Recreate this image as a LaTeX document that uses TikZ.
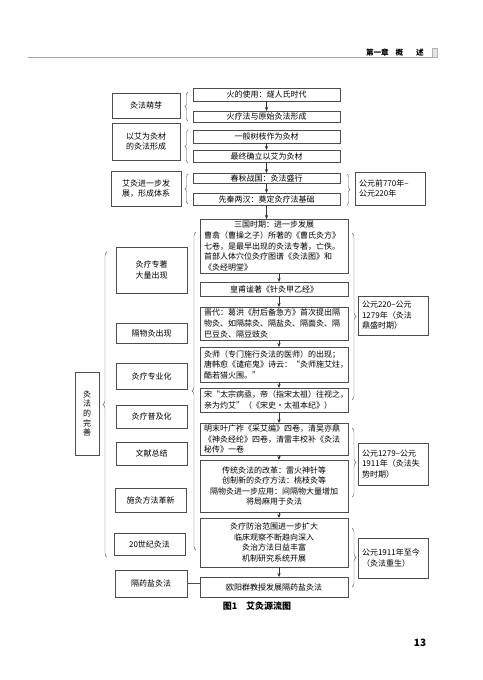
\documentclass[tikz,border=0pt]{standalone}
\usepackage{fontspec}
\setmainfont{Noto Sans CJK SC}
\usetikzlibrary{decorations.pathreplacing,arrows.meta}
\newcommand\fs{\fontsize{8}{10.6}\selectfont}
\newcommand\hfs{\fontsize{7.6}{9}\selectfont}
\newcommand\capfs{\fontsize{9}{11}\selectfont}
\tikzset{
  box/.style={draw=black!70, line width=0.6pt, inner sep=1pt, outer sep=0pt, font=\fs, align=center, anchor=north west},
  cbox/.style={box, minimum width=147},
  dbox/.style={box, text width=140pt, inner xsep=4pt, align=left},
  dcbox/.style={box, minimum width=148},
  lbox/.style={box, minimum width=71},
  rbox/.style={box, align=left, inner xsep=4pt, text width=62pt},
  arr/.style={-{Stealth[length=4pt,width=3.2pt]}, line width=0.6pt, draw=black!80},
  brl/.style={decorate, decoration={brace, amplitude=3pt}, draw=black!60, line width=0.45pt},
  ln/.style={draw=black!70, line width=0.6pt},
}
\begin{document}
\begin{tikzpicture}[x=1pt,y=-1pt]
\fill[white] (0,0) rectangle (482,680);
\useasboundingbox (0,0) rectangle (482,680);

% header
\draw[gray!70, line width=0.5pt] (28,57) -- (437,57);
\node[font=\hfs\bfseries, anchor=base east, inner sep=0] (hd) at (424,55) {第一章\hspace{0.9em}概\hspace{1.7em}述};
\node[draw=gray!60, fill=gray!20, line width=0.3pt, minimum width=5, minimum height=9, inner sep=0, anchor=north west] (tab) at (432,48) {};

% upper left boxes
\node[lbox, minimum width=68, minimum height=25] (L1) at (112,93) {灸法萌芽};
\node[lbox, minimum width=68, minimum height=37] (L2) at (112,123) {以艾为灸材\\的灸法形成};
\node[lbox, minimum width=70, minimum height=35] (L3) at (111,171) {艾灸进一步发\\展，形成体系};

% upper center boxes
\node[cbox, minimum height=13] (C1) at (193,88) {火的使用：燧人氏时代};
\node[cbox, minimum height=11] (C2) at (193,111) {火疗法与原始灸法形成};
\node[cbox, minimum height=13] (C3) at (193,130) {一般树枝作为灸材};
\node[cbox, minimum height=12] (C4) at (193,150) {最终确立以艾为灸材};
\node[cbox, minimum height=10.5] (C5) at (193,173) {春秋战国：灸法盛行};
\node[cbox, minimum height=12] (C6) at (193,193) {先秦两汉：奠定灸疗法基础};

\draw[arr] (C1.south) -- (C2.north);
\draw[arr] (C3.south) -- (C4.north);
\draw[arr] (C4.south) -- (C5.north);
\draw[arr] (C5.south) -- (C6.north);

\draw[brl] ([xshift=-5pt,yshift=1pt]C2.south west) -- ([xshift=-5pt,yshift=-4pt]C1.north west);
\draw[brl] ([xshift=-5pt,yshift=-1pt]C4.south west) -- ([xshift=-5pt]C3.north west);
\draw[brl] ([xshift=-5pt,yshift=1pt]C6.south west) -- ([xshift=-5pt,yshift=-1pt]C5.north west);
\draw[brl] ([xshift=7pt,yshift=-1pt]C5.north east) -- ([xshift=7pt]C6.south east);

\node[rbox, minimum height=33] (R1) at (355,172) {公元前770年–\\公元220年};

% lower center boxes
\node[dbox, minimum height=54] (D1) at (200,219) {\makebox[140pt]{三国时期：进一步发展}\\曹翕（曹操之子）所著的《曹氏灸方》\\七卷，是最早出现的灸法专著，亡佚。\\首部人体穴位灸疗图谱《灸法图》和\\《灸经明堂》};
\node[dcbox, minimum height=14] (D2) at (200,282) {皇甫谧著《针灸甲乙经》};
\node[dbox, minimum height=33] (D3) at (200,307) {晋代：葛洪《肘后备急方》首次提出隔\\物灸、如隔蒜灸、隔盐灸、隔面灸、隔\\巴豆灸、隔豆豉灸};
\node[dbox, minimum height=35] (D4) at (200,347) {灸师（专门施行灸法的医师）的出现；\\唐韩愈《谴疟鬼》诗云：“灸师施艾炷，\\酷若猎火围。”};
\node[dbox, minimum height=24] (D5) at (200,388) {宋“太宗病亟，帝（指宋太祖）往视之，\\亲为灼艾”（《宋史·太祖本纪》）};
\node[dbox, minimum height=32] (D6) at (200,423) {明末叶广祚《采艾编》四卷，清吴亦鼎\\《神灸经纶》四卷，清雷丰校补《灸法\\秘传》一卷};
\node[dcbox, minimum height=52] (D7) at (200,460) {传统灸法的改革：雷火神针等\\创制新的灸疗方法：桃枝灸等\\隔物灸进一步应用：间隔物大量增加\\将局麻用于灸法};
\node[dcbox, minimum height=49] (D8) at (200,518) {灸疗防治范围进一步扩大\\临床观察不断趋向深入\\灸治方法日益丰富\\机制研究系统开展};
\node[dcbox, minimum height=20] (D9) at (200,577) {欧阳群教授发展隔药盐灸法};

\draw[arr] (C6.south) -- (C6.south |- D1.north);
\foreach \a/\b in {D1/D2,D2/D3,D3/D4,D4/D5,D5/D6,D6/D7,D7/D8,D8/D9}
  \draw[arr] ([xshift=5pt]\a.south) -- ([xshift=5pt]\b.north);

% lower left boxes
\node[lbox, minimum height=46] (E1) at (116,247) {灸疗专著\\大量出现};
\node[lbox, minimum height=20] (E2) at (116,323) {隔物灸出现};
\node[lbox, minimum height=26] (E3) at (116,363) {灸疗专业化};
\node[lbox, minimum height=23] (E4) at (116,405) {灸疗普及化};
\node[lbox, minimum height=23] (E5) at (116,442) {文献总结};
\node[lbox, minimum height=24] (E6) at (115,488) {施灸方法革新};
\node[lbox, minimum height=22] (E7) at (114,533) {20世纪灸法};
\node[lbox, minimum width=72, minimum height=27] (E8) at (115,570) {隔药盐灸法};
\draw[ln] (E8.east) -- (E8.east -| D9.west);

% vertical box
\node[box, minimum width=24, minimum height=83, baseline=0pt, font=\fontsize{8}{9.6}\selectfont] (V) at (75,372) {灸\\法\\的\\完\\善};

% big braces
\coordinate (ib1) at (196,550);
\coordinate (ib2) at (196,232);
\draw[brl, decoration={amplitude=4pt}] (ib1) -- (ib2);
\coordinate (ob1) at (107,557);
\coordinate (ob2) at (107,252);
\draw[brl, decoration={amplitude=4pt}] (ob1) -- (ob2);

% right braces and boxes
\coordinate (r2a) at (352,233);
\coordinate (r2b) at (352,400);
\draw[brl, decoration={amplitude=4pt}] (r2a) -- (r2b);
\node[rbox, minimum height=39] (R2) at (358,296) {公元220–公元\\1279年（灸法\\鼎盛时期）};

\coordinate (r3a) at (352,428);
\coordinate (r3b) at (352,497);
\draw[brl, decoration={amplitude=4pt}] (r3a) -- (r3b);
\node[rbox, minimum height=42] (R3) at (358,443) {公元1279–公元\\1911年（灸法失\\势时期）};

\coordinate (r4a) at (352,528);
\coordinate (r4b) at (352,587);
\draw[brl, decoration={amplitude=4pt}] (r4a) -- (r4b);
\node[rbox, minimum height=40] (R4) at (358,538) {公元1911年至今\\（灸法重生）};

% caption and page number
\node[font=\capfs\bfseries, inner sep=0] (cap) at (257,606) {图1\hspace{1em}艾灸源流图};
\node[font=\fontsize{10}{12}\selectfont\bfseries, inner sep=0] (pg) at (420,643) {13};
\end{tikzpicture}
\end{document}
